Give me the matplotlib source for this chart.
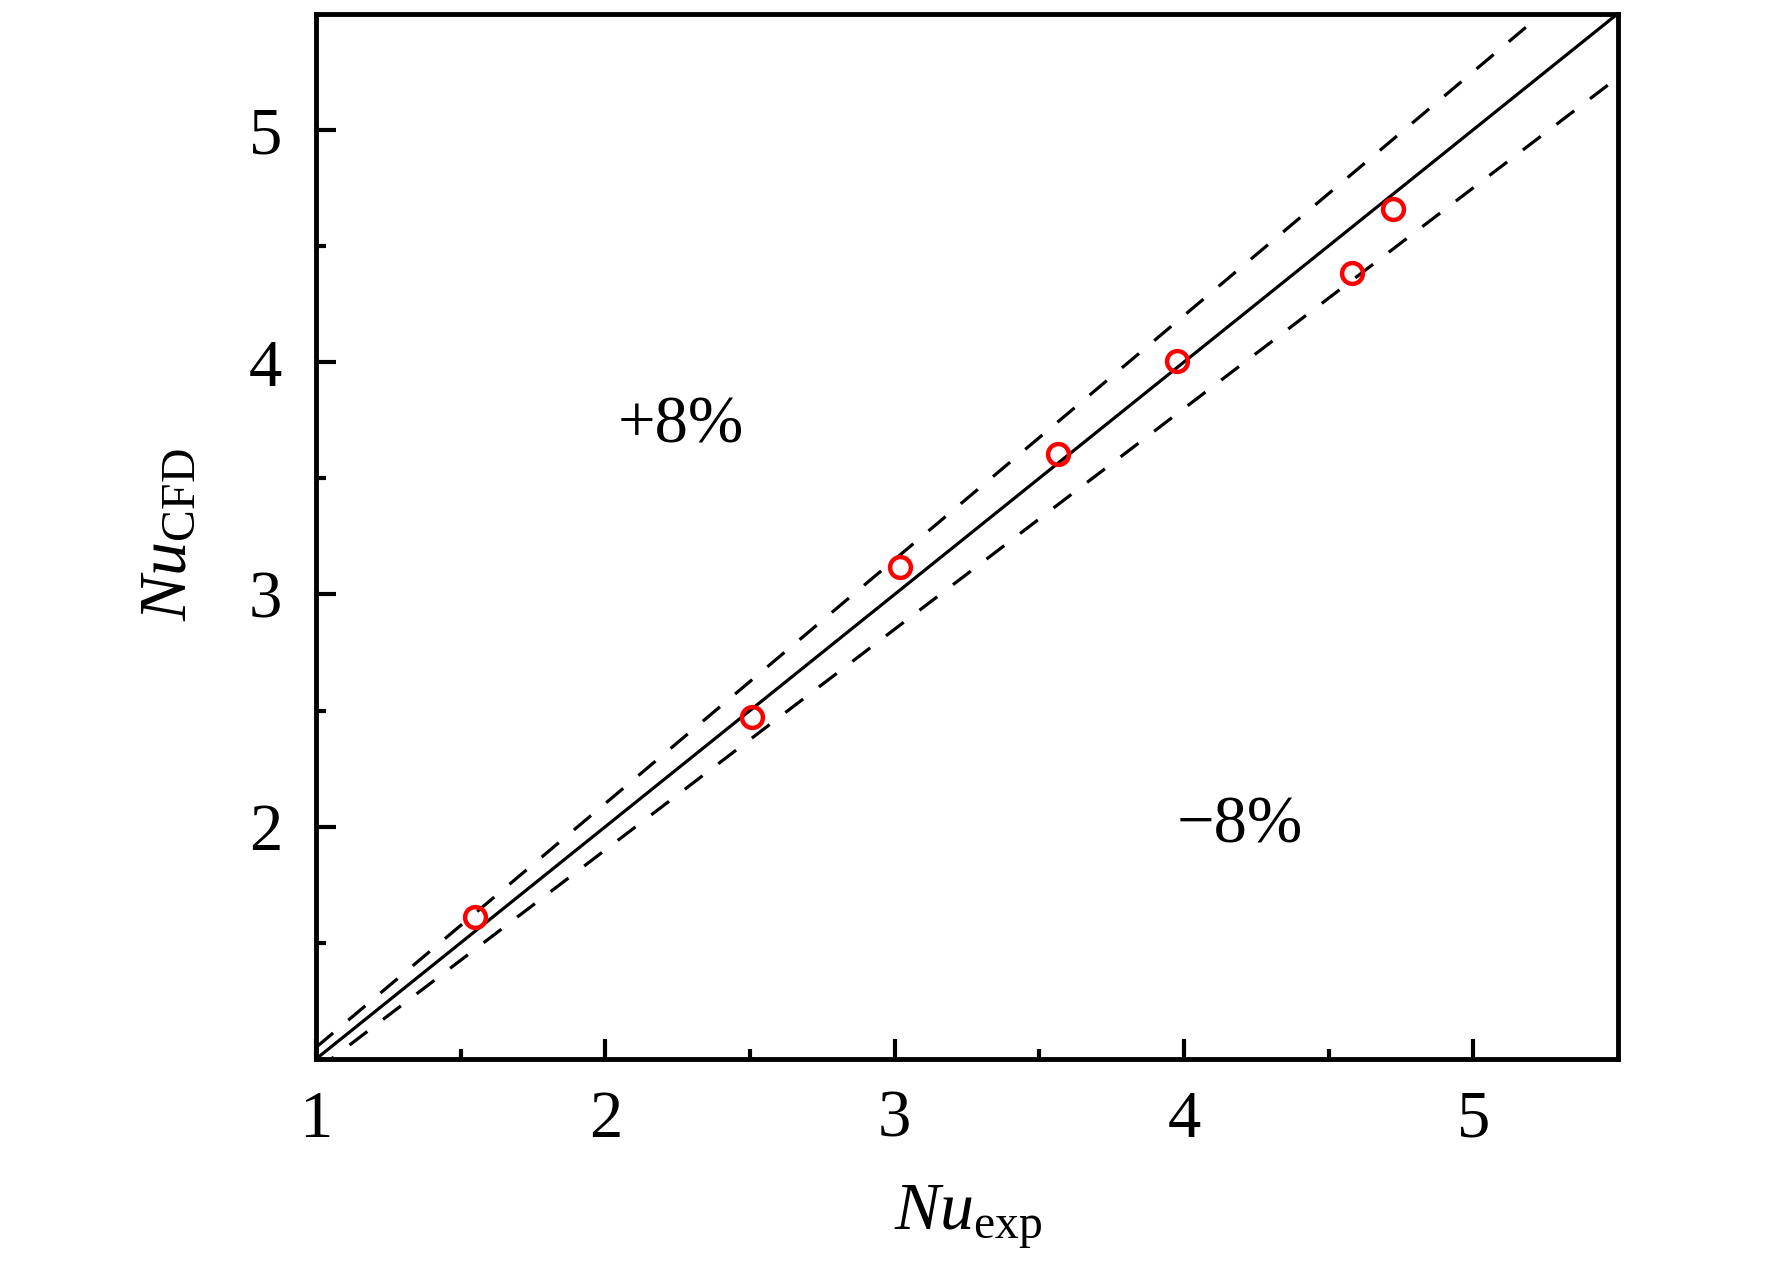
import matplotlib
matplotlib.use("Agg")
import matplotlib.pyplot as plt
import numpy as np

# ---- data ----
nu_exp = [1.548, 2.507, 3.020, 3.564, 3.975, 4.581, 4.722]
nu_cfd = [1.611, 2.472, 3.118, 3.604, 4.003, 4.382, 4.659]
line_x = [1.0, 5.5]
upper_factor = 1.05
lower_factor = 0.95
x_ticks = [1, 2, 3, 4, 5]
y_ticks = [2, 3, 4, 5]
x_minor = [1.5, 2.5, 3.5, 4.5]
y_minor = [1.5, 2.5, 3.5, 4.5]
label_plus = "+8%"
label_minus = "\u22128%"

plt.rcParams['font.family'] = ['Liberation Serif', 'DejaVu Serif']
plt.rcParams['mathtext.fontset'] = 'custom'
plt.rcParams['mathtext.rm'] = 'Liberation Serif'
plt.rcParams['mathtext.it'] = 'Liberation Serif:italic'
plt.rcParams['mathtext.bf'] = 'Liberation Serif:bold'

fig = plt.figure(figsize=(17.72, 12.64), dpi=100)
ax = fig.add_axes([316/1772, 1-1059/1264, (1618-316)/1772, (1059-13.5)/1264])

lx = np.array(line_x)
ax.plot(lx, lx, color='black', lw=2.3, zorder=2)
ax.plot(lx, lx*upper_factor, color='black', lw=2.3, linestyle=(0, (7.0, 6.2)), zorder=2)
ax.plot(lx, lx*lower_factor, color='black', lw=2.3, linestyle=(0, (7.0, 6.2)), zorder=2)

ax.plot(nu_exp, nu_cfd, linestyle='none', marker='o', ms=15, mew=3.2,
        mfc='none', mec='#ff0000', zorder=3)

ax.set_xlim(1, 5.5)
ax.set_ylim(1, 5.5)
ax.set_xticks(x_ticks)
ax.set_yticks(y_ticks)
ax.set_xticks(x_minor, minor=True)
ax.set_yticks(y_minor, minor=True)
ax.set_xticklabels([str(t) for t in x_ticks])
ax.set_yticklabels([str(t) for t in y_ticks])

ax.tick_params(which='both', direction='in', top=False, right=False, width=3.0, color='black')
ax.tick_params(which='major', length=14.5, labelsize=48)
ax.tick_params(which='minor', length=7)
ax.tick_params(axis='x', which='major', pad=22)
ax.tick_params(axis='y', which='major', pad=24.5)

for sp in ax.spines.values():
    sp.set_linewidth(3.5)
    sp.set_color('black')

ax.text(2.044, 3.652, label_plus, ha='left', va='baseline', fontsize=48)
ax.text(3.976, 1.934, label_minus, ha='left', va='baseline', fontsize=48)

fig.text(968/1772, 1-1230/1264, r'$Nu_{\mathrm{exp}}$', ha='center', va='baseline', fontsize=49)
fig.text(186/1772, 1-535/1264, r'$Nu_{\mathrm{CFD}}$', ha='center', va='baseline',
         rotation=90, rotation_mode='anchor', fontsize=49)

fig.savefig('out.png', dpi=100)
